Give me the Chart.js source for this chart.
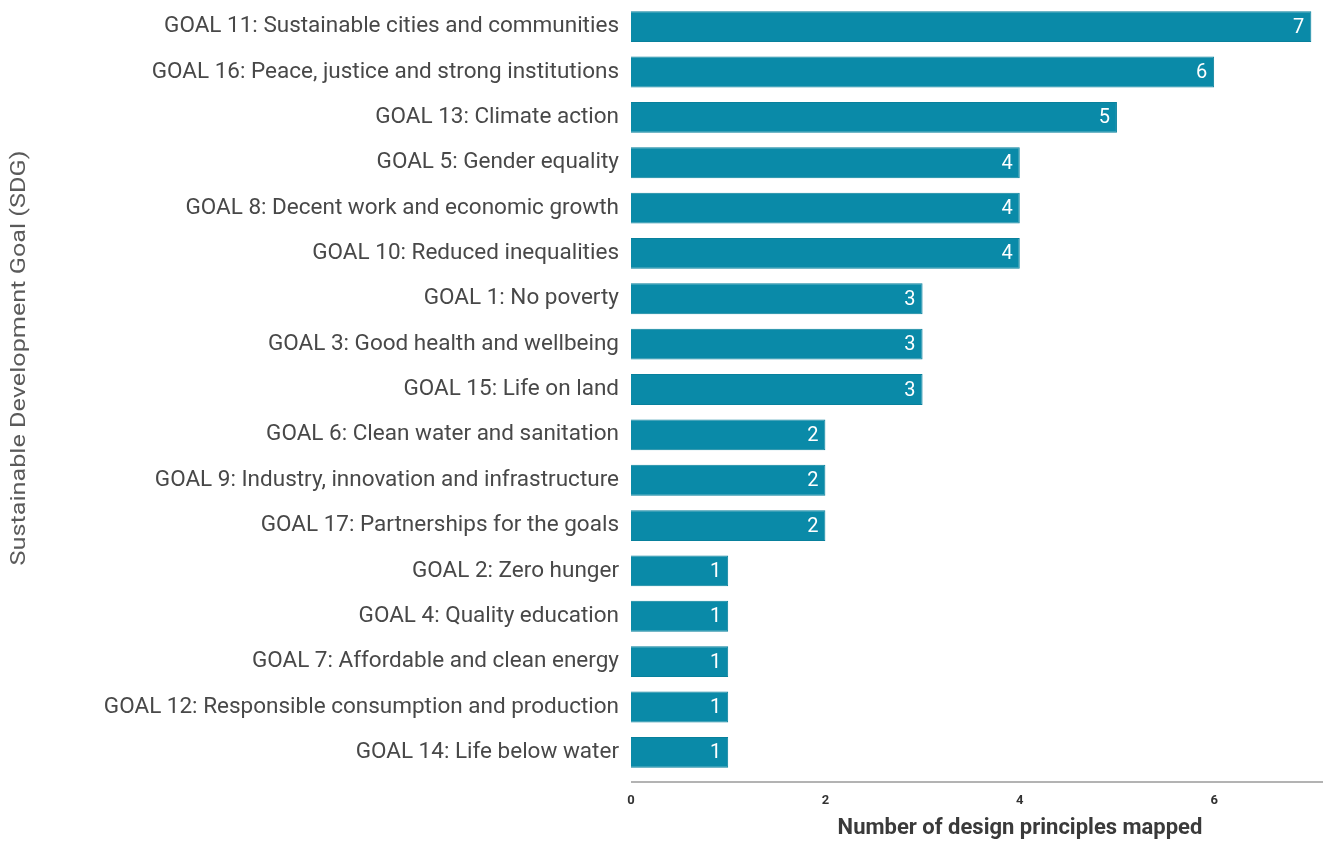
<!DOCTYPE html>
<html>
<head>
<meta charset="utf-8">
<script src="https://cdn.jsdelivr.net/npm/chart.js@4.4.0/dist/chart.umd.min.js"></script>
<style>
    html, body { margin: 0; padding: 0; background: #ffffff; }
    #wrap { width: 1330px; height: 841px; }
</style>
</head>
<body>
<div id="wrap"><canvas id="chart" width="1330" height="841"></canvas></div>
<script>
const goals = [
    'GOAL 11: Sustainable cities and communities',
    'GOAL 16: Peace, justice and strong institutions',
    'GOAL 13: Climate action',
    'GOAL 5: Gender equality',
    'GOAL 8: Decent work and economic growth',
    'GOAL 10: Reduced inequalities',
    'GOAL 1: No poverty',
    'GOAL 3: Good health and wellbeing',
    'GOAL 15: Life on land',
    'GOAL 6: Clean water and sanitation',
    'GOAL 9: Industry, innovation and infrastructure',
    'GOAL 17: Partnerships for the goals',
    'GOAL 2: Zero hunger',
    'GOAL 4: Quality education',
    'GOAL 7: Affordable and clean energy',
    'GOAL 12: Responsible consumption and production',
    'GOAL 14: Life below water'
];
const principleCounts = [7, 6, 5, 4, 4, 4, 3, 3, 3, 2, 2, 2, 1, 1, 1, 1, 1];
const xTickValues = [0, 2, 4, 6];

const xTitle = 'Number of design principles mapped';
const yTitle = 'Sustainable Development Goal (SDG)';

// white value labels at the end of each bar
const valueLabels = {
    id: 'valueLabels',
    afterDatasetsDraw(chart) {
        const ctx = chart.ctx;
        const meta = chart.getDatasetMeta(0);
        ctx.save();
        ctx.fillStyle = '#ffffff';
        ctx.font = '20px Roboto';
        ctx.textAlign = 'right';
        ctx.textBaseline = 'middle';
        meta.data.forEach((bar, i) => {
            ctx.fillText(String(principleCounts[i]), bar.x - 7, bar.y + 1);
        });
        ctx.restore();
    }
};

// axis line sits a little below the last bar, plus both axis titles
const axisDecor = {
    id: 'axisDecor',
    afterDraw(chart) {
        const ctx = chart.ctx;
        const area = chart.chartArea;
        ctx.save();
        ctx.strokeStyle = '#9a9a9a';
        ctx.lineWidth = 1.5;
        ctx.beginPath();
        ctx.moveTo(area.left, area.bottom + 7);
        ctx.lineTo(area.right, area.bottom + 7);
        ctx.stroke();

        ctx.fillStyle = '#3a3a3a';
        ctx.font = 'bold 22px Roboto';
        ctx.textAlign = 'center';
        ctx.textBaseline = 'middle';
        ctx.fillText(xTitle, 1020, 828);

        ctx.fillStyle = '#5a5a5a';
        ctx.font = '21px Roboto';
        ctx.translate(20, 358);
        ctx.rotate(-Math.PI / 2);
        ctx.scale(1.2, 1);
        ctx.fillText(yTitle, 0, 0);
        ctx.restore();
    }
};

new Chart(document.getElementById('chart'), {
    type: 'bar',
    data: {
        labels: goals,
        datasets: [{
            data: principleCounts,
            backgroundColor: '#0a8aa8',
            borderColor: '#08809c',
            borderWidth: 1,
            barPercentage: 0.68,
            categoryPercentage: 1
        }]
    },
    options: {
        indexAxis: 'y',
        responsive: false,
        animation: false,
        layout: { padding: { top: 4, right: 7, left: 0, bottom: 0 } },
        plugins: {
            legend: { display: false },
            tooltip: { enabled: false }
        },
        scales: {
            x: {
                min: 0,
                max: 7.12,
                afterFit(scale) {
                    scale.height = 66;
                    scale.paddingLeft = 0;
                    scale.paddingRight = 0;
                },
                afterBuildTicks(scale) {
                    scale.ticks = xTickValues.map(v => ({ value: v }));
                },
                grid: { display: false, drawTicks: false },
                border: { display: false },
                ticks: {
                    padding: 18,
                    color: '#333333',
                    font: { family: 'Roboto', size: 13, weight: 'bold' },
                    maxRotation: 0
                }
            },
            y: {
                afterFit(scale) {
                    scale.width = 631;
                    scale.paddingTop = 0;
                    scale.paddingBottom = 0;
                },
                grid: { display: false, drawTicks: false },
                border: { display: false },
                ticks: {
                    padding: 12,
                    color: '#484848',
                    font: { family: 'Roboto', size: 22.5 }
                }
            }
        }
    },
    plugins: [valueLabels, axisDecor]
});
</script>
</body>
</html>
